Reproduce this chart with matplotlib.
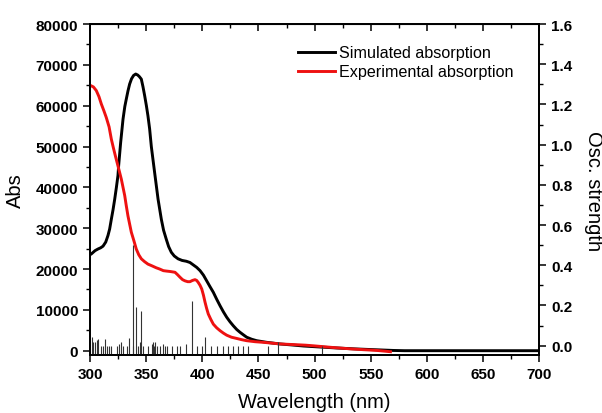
import numpy as np
import matplotlib.pyplot as plt
from matplotlib.ticker import MultipleLocator

plt.rcParams['font.family'] = ['Liberation Sans', 'DejaVu Sans']

# simulated absorption (black)
sim_x = [300, 301.2, 304.5, 307.1, 309.5, 311.6, 314, 316, 317.5, 319, 320.5, 322,
         323.5, 324.9, 325.5, 327.3, 329.4, 331, 332.3, 333.8, 335.3, 337, 338.8,
         340.7, 342.5, 344, 345.7, 347.2, 348.7, 350.2, 351.6, 353.1, 354.6, 357.6,
         360.6, 363.5, 365.5, 367.9, 370, 372.4, 375, 378.4, 382, 385.8, 389, 392,
         395, 398, 401, 403.9, 406.8, 409.8, 412.8, 415.8, 418.8, 421.7, 424.6,
         427.6, 430.6, 433.6, 436.5, 439.5, 444, 448.4, 457.3, 469.2, 480, 490, 505,
         520, 535, 550, 560, 570, 580, 700]
sim_y = [23500, 23700, 24500, 24900, 25200, 25600, 26600, 28200, 29800, 32200, 34500, 37100,
         40000, 42900, 45300, 51000, 56700, 59800, 61600, 63600, 65300, 66600, 67400,
         67750, 67500, 67100, 66500, 64600, 62400, 60000, 57500, 54300, 50000, 43500,
         37100, 32200, 29500, 27300, 25500, 24100, 23200, 22500, 22100, 21900, 21600, 21000,
         20400, 19600, 18500, 17100, 15700, 14300, 12600, 11000, 9500, 8200, 7100,
         6100, 5200, 4500, 3900, 3300, 2800, 2450, 2050, 1650, 1400, 1150, 900,
         660, 450, 280, 170, 60, 0, 0]

# experimental absorption (red)
exp_x = [300, 303, 305.6, 308, 310.1, 312.3, 314.5, 317, 319, 320.8, 322.6, 324.2,
         325.6, 327.9, 329.4, 330.9, 332.3, 333.8, 335.3, 336.8, 339, 341.2, 343.4,
         345.7, 348.6, 351.6, 355, 359, 362, 365.3, 368, 371.2, 373.5, 375.7, 378,
         380.1, 382.4, 384.6, 387, 389, 391.2, 393.5, 395, 396.4, 398, 399.5, 401,
         402.4, 403.8, 405.3, 407.5, 409.8, 412.8, 415.8, 418.8, 421.7, 426, 430.6,
         435, 439.5, 447, 454.3, 462, 469.2, 477, 485, 492, 498.9, 509, 520, 532,
         543.4, 550, 556, 562, 567.5]
exp_y = [65000, 64600, 63700, 62200, 60400, 58800, 57100, 54800, 51800, 49700, 47700, 46000,
         44500, 42000, 40000, 38000, 35500, 33000, 31000, 29000, 27000, 24900, 23500,
         22500, 21800, 21200, 20800, 20300, 20000, 19600, 19500, 19400, 19300, 19200, 18600,
         18000, 17400, 17100, 16900, 16900, 17200, 17400, 17200, 16700, 16000, 15100, 13600,
         11900, 10400, 9000, 7700, 6500, 5600, 4900, 4300, 3800, 3300, 3000,
         2700, 2450, 2200, 2050, 1850, 1650, 1550, 1450, 1350, 1200, 950, 700, 450,
         250, 150, 50, -100, -250]

# oscillator strengths (sticks)
stick_x = [301.5, 303.0, 304.5, 306.5, 307.4, 309.5, 311.3, 313.4, 315.4, 317.2,
           318.7, 323.7, 326.1, 327.6, 329.1, 332.7, 335.0, 338.0, 338.6, 341.0,
           343.0, 344.5, 345.7, 347.5, 351.9, 354.9, 355.8, 357.0, 357.9, 360.0,
           362.3, 364.7, 366.8, 368.9, 372.7, 377.2, 380.1, 385.5, 390.5, 395.6,
           399.4, 402.7, 407.5, 412.8, 418.8, 423.2, 427.6, 432.1, 436.0, 441.0,
           458.8, 467.7, 506.3]
stick_f = [0.041, 0.017, 0.017, 0.028, 0.033, 0.0, 0.0, 0.033, 0.0, 0.0,
           0.0, 0.0, 0.008, 0.017, 0.0, 0.0, 0.038, 0.50, 0.0, 0.19,
           0.0, 0.017, 0.174, 0.0, 0.0, 0.008, 0.017, 0.0, 0.017, 0.0,
           0.0, 0.008, 0.0, 0.0, 0.0, 0.0, 0.0, 0.008, 0.22, 0.0,
           0.0, 0.045, 0.0, 0.0, 0.0, 0.0, 0.0, 0.0, 0.0, 0.0,
           0.0, 0.017, 0.0]

fig = plt.figure(figsize=(6.02, 4.14), dpi=100)
ax = fig.add_axes([0.1495, 0.1389, 0.7463, 0.8007])

ax.plot(sim_x, sim_y, color='black', lw=2.1, label='Simulated absorption', zorder=3)
ax.plot(exp_x, exp_y, color='#ee1111', lw=2.1, label='Experimental absorption', zorder=4)

ax.set_xlim(300, 700)
ax.set_ylim(-1175, 80000)
ax.xaxis.set_major_locator(MultipleLocator(50))
ax.xaxis.set_minor_locator(MultipleLocator(25))
ax.yaxis.set_major_locator(MultipleLocator(10000))
ax.yaxis.set_minor_locator(MultipleLocator(5000))
ax.tick_params(which='major', direction='out', length=5, width=1.1, labelsize=11)
ax.tick_params(which='minor', direction='out', length=3, width=1.0)
for lab in ax.get_xticklabels() + ax.get_yticklabels():
    lab.set_fontweight('bold')
ax.set_xlabel('Wavelength (nm)', fontsize=14.5, labelpad=8)
ax.set_ylabel('Abs', fontsize=14.5, labelpad=8)

top = ax.secondary_xaxis('top')
top.xaxis.set_major_locator(MultipleLocator(50))
top.xaxis.set_minor_locator(MultipleLocator(25))
top.tick_params(which='major', direction='in', length=5, width=1.1, labeltop=False)
top.tick_params(which='minor', direction='in', length=3, width=1.0)

ax2 = ax.twinx()
ymin2 = -0.049
ax2.vlines(stick_x, ymin2, stick_f, color='#333333', lw=0.8)
ax2.set_ylim(ymin2, 1.6)
ax2.yaxis.set_major_locator(MultipleLocator(0.2))
ax2.yaxis.set_minor_locator(MultipleLocator(0.1))
ax2.tick_params(which='major', direction='out', length=5, width=1.1, labelsize=11)
ax2.tick_params(which='minor', direction='out', length=3, width=1.0)
ax2.yaxis.set_major_formatter(plt.FormatStrFormatter('%.1f'))
for lab in ax2.get_yticklabels():
    lab.set_fontweight('bold')
ax2.set_ylabel('Osc. strength', fontsize=14.5, rotation=270, labelpad=22)

for a in (ax, ax2):
    for s in a.spines.values():
        s.set_linewidth(1.3)

ax.legend(loc='upper left', bbox_to_anchor=(0.445, 0.96), frameon=False, fontsize=11.6,
          handlelength=2.3, handletextpad=0.25, labelspacing=0.25, borderpad=0)

fig.savefig('out.png', dpi=100)
